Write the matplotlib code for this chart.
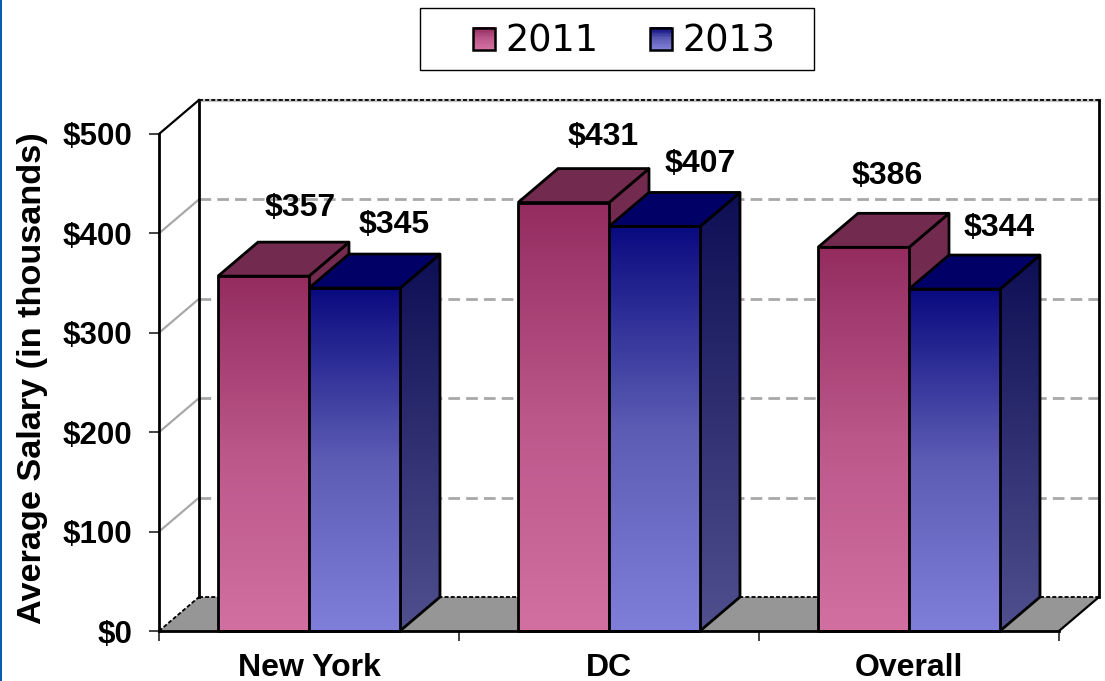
import numpy as np
import matplotlib
matplotlib.use("Agg")
import matplotlib.pyplot as plt
from matplotlib.colors import LinearSegmentedColormap
from matplotlib.patches import Polygon, Rectangle
from matplotlib.legend_handler import HandlerBase
from matplotlib.ticker import FixedLocator, FuncFormatter

categories = ["New York", "DC", "Overall"]
series_names = ["2011", "2013"]
values_2011 = [357, 431, 386]
values_2013 = [345, 407, 344]
y_ticks = [0, 100, 200, 300, 400, 500]

W, H = 1105, 681
fig = plt.figure(figsize=(W / 100, H / 100), dpi=100, facecolor="white")
ax = fig.add_axes([159 / W, 1 - 631 / H, 900 / W, 497 / H])
ax.set_xlim(0, 3)
ax.set_ylim(0, 500)
ax.patch.set_alpha(0)

# depth of the pseudo-3D box, in data units
DX = 40 / 300
DY = 34 / (497 / 500)
BAR_W = 91 / 300
BOLD = dict(family="Liberation Sans", weight="bold", color="black")

cm_front = [
    LinearSegmentedColormap.from_list("a", ["#D170A1", "#BC578A", "#942C60"]),
    LinearSegmentedColormap.from_list("b", ["#7F7FDA", "#5C5CB4", "#0A0A80"]),
]
cm_side = [
    LinearSegmentedColormap.from_list("c", ["#7A3558", "#722A4E"]),
    LinearSegmentedColormap.from_list("d", ["#50508F", "#0E0E55"]),
]
top_col = ["#722A4E", "#000066"]
grad = np.linspace(1, 0, 256).reshape(-1, 1)


def grad_poly(pts, cmap, ymax, z):
    im = ax.imshow(grad, cmap=cmap, aspect="auto", interpolation="bilinear",
                   extent=[min(p[0] for p in pts), max(p[0] for p in pts), 0, ymax],
                   vmin=0, vmax=1, zorder=z)
    clip = Polygon(pts, closed=True, transform=ax.transData, fc="none", ec="none")
    im.set_clip_path(clip)
    im.set_clip_box(fig.bbox)
    ax.add_patch(Polygon(pts, closed=True, fc="none", ec="black", lw=2,
                         joinstyle="round", zorder=z + 0.01, clip_on=False))


# floor
ax.add_patch(Polygon([(0, 0), (DX, DY), (3 + DX, DY), (3, 0)], closed=True,
                     fc="#969696", ec="none", zorder=1, clip_on=False))
# back wall grid
for t in y_ticks[1:-1]:
    ax.plot([DX, 3 + DX], [t + DY] * 2, color="#A8A8A8", lw=2, ls=(0, (4.2, 2.2)),
            zorder=1.1, clip_on=False)
    ax.plot([0, DX], [t, t + DY], color="#A8A8A8", lw=1.6, zorder=1.1, clip_on=False)
ax.plot([DX, 3 + DX], [500 + DY] * 2, color="#C4C4C4", lw=2.4, zorder=1.1, clip_on=False)
ax.plot([DX, 3 + DX], [500 + DY] * 2, color="black", lw=1.3, ls=(0, (2.2, 1.2)),
        zorder=1.2, clip_on=False)
ax.plot([DX, 3 + DX], [DY, DY], color="black", lw=1.3, ls=(0, (2.2, 1.2)),
        zorder=1.2, clip_on=False)
# walls
ax.plot([0, DX], [500, 500 + DY], color="black", lw=1.6, zorder=1.3, clip_on=False)
ax.plot([0, DX], [0, DY], color="black", lw=1.3, ls=(0, (2.2, 1.2)), zorder=1.3, clip_on=False)
ax.plot([DX, DX], [DY, 500 + DY], color="black", lw=2, zorder=1.3, clip_on=False)
ax.plot([3 + DX, 3 + DX], [DY, 500 + DY], color="black", lw=2, zorder=1.3, clip_on=False)
ax.plot([3, 3 + DX], [0, DY], color="black", lw=1.6, zorder=1.3, clip_on=False)

# bars
z = 3.0
for i in range(len(categories)):
    left = i + 0.5 - BAR_W
    for s, vals in enumerate([values_2011, values_2013]):
        v = vals[i]
        x0, x1 = left + s * BAR_W, left + (s + 1) * BAR_W
        grad_poly([(x1, 0), (x1 + DX, DY), (x1 + DX, v + DY), (x1, v)], cm_side[s], v + DY, z)
        ax.add_patch(Polygon([(x0, v), (x0 + DX, v + DY), (x1 + DX, v + DY), (x1, v)],
                             closed=True, fc=top_col[s], ec="black", lw=2, zorder=z + 0.1,
                             clip_on=False))
        grad_poly([(x0, 0), (x0, v), (x1, v), (x1, 0)], cm_front[s], v, z + 0.2)
        z += 0.5

# data labels, nudged in pixels from the bar's front-top centre
label_shift = {(0, 0): (37, 68), (0, 1): (40, 63), (1, 0): (40, 66), (1, 1): (46, 62),
               (2, 0): (24, 71), (2, 1): (45, 61)}
for i in range(len(categories)):
    left = i + 0.5 - BAR_W
    for s, vals in enumerate([values_2011, values_2013]):
        xc = left + (s + 0.5) * BAR_W
        sx, sy = label_shift[(i, s)]
        ax.annotate(f"${vals[i]}", xy=(xc, vals[i]), xytext=(sx * 0.72, sy * 0.72),
                    textcoords="offset points", ha="center", va="center",
                    fontsize=23, zorder=9, annotation_clip=False, **BOLD)

# axes, ticks
for side in ("top", "right"):
    ax.spines[side].set_visible(False)
for side in ("left", "bottom"):
    ax.spines[side].set_linewidth(2)
ax.spines["bottom"].set_zorder(8)
ax.yaxis.set_major_locator(FixedLocator(y_ticks))
ax.yaxis.set_major_formatter(FuncFormatter(lambda v, p: f"${int(v)}"))
ax.xaxis.set_major_locator(FixedLocator(range(len(categories) + 1)))
ax.xaxis.set_major_formatter(FuncFormatter(lambda v, p: ""))
ax.set_xticks([i + 0.5 for i in range(len(categories))], labels=categories, minor=True)
ax.tick_params(axis="y", length=7, width=1.2, pad=12, color="#222222")
ax.tick_params(axis="x", which="major", length=7, width=1.2, color="#222222")
ax.tick_params(axis="x", which="minor", length=0, pad=16)
for lab in ax.get_yticklabels():
    lab.set_fontproperties({"family": "Liberation Sans", "weight": "bold", "size": 22.5})
for lab in ax.get_xticklabels(minor=True):
    lab.set_fontproperties({"family": "Liberation Sans", "weight": "bold", "size": 23})
fig.text(33 / W, 1 - 378 / H, "Average Salary (in thousands)", rotation=90,
         ha="center", va="center", fontsize=24.7, **BOLD)


# legend
class GradHandler(HandlerBase):
    def __init__(self, cmap):
        super().__init__()
        self.cmap = cmap

    def create_artists(self, legend, orig, xd, yd, w, h, fs, trans):
        side = 22 * 0.72
        x0, y0 = -xd + (w - side) / 2, -yd + (h - side) / 2
        out = []
        n = 16
        for k in range(n):
            out.append(Rectangle((x0, y0 + side * k / n), side, side / n + 0.3,
                                 fc=self.cmap(k / (n - 1)), ec="none", transform=trans))
        out.append(Rectangle((x0, y0), side, side, fc="none", ec="black", lw=1.8, transform=trans))
        return out


fig.add_artist(Rectangle((420 / W, 1 - 70 / H), 394 / W, 62 / H, transform=fig.transFigure,
                         fc="white", ec="black", lw=1))
h1 = Rectangle((0, 0), 1, 1)
h2 = Rectangle((0, 0), 1, 1)
leg = fig.legend([h1, h2], series_names,
                 handler_map={h1: GradHandler(cm_front[0]), h2: GradHandler(cm_front[1])},
                 loc="center", bbox_to_anchor=(624 / W, 1 - 41 / H), ncol=2,
                 prop={"family": "DejaVu Sans", "size": 26.4}, frameon=False,
                 handlelength=0.6, handleheight=0.6,
                 handletextpad=0.28, columnspacing=1.4, borderpad=0, borderaxespad=0)

# left page edge
fig.add_artist(Rectangle((0, 0), 2 / W, 1, transform=fig.transFigure, fc="#0B5CAB", ec="none"))

fig.savefig("out.png", dpi=100)
